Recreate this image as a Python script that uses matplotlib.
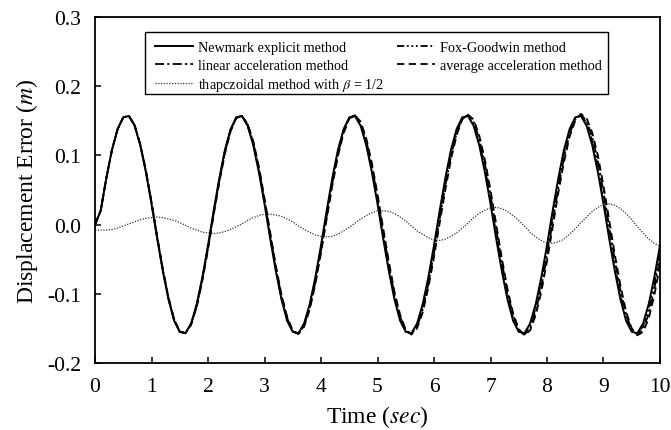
import numpy as np
import matplotlib
matplotlib.use("Agg")
import matplotlib.pyplot as plt
from matplotlib.patches import Rectangle
from matplotlib.ticker import FormatStrFormatter

plt.rcParams['font.family'] = ['Liberation Serif', 'DejaVu Serif']
plt.rcParams['mathtext.fontset'] = 'stix'
plt.rcParams['axes.unicode_minus'] = False

# time samples (sec)
time = np.linspace(0, 10, 101)

# displacement error (m), every 0.1 s
newmark_explicit = [
    0.000, 0.020, 0.067, 0.108, 0.138, 0.155, 0.157, 0.143, 0.115, 0.076,
    0.030, -0.020, -0.067, -0.108, -0.139, -0.155, -0.157, -0.143, -0.115, -0.076,
    -0.030, 0.020, 0.067, 0.108, 0.138, 0.155, 0.157, 0.143, 0.115, 0.076,
    0.030, -0.020, -0.067, -0.108, -0.139, -0.155, -0.157, -0.143, -0.115, -0.076,
    -0.030, 0.020, 0.067, 0.108, 0.138, 0.155, 0.157, 0.143, 0.115, 0.076,
    0.030, -0.020, -0.067, -0.108, -0.139, -0.155, -0.157, -0.143, -0.115, -0.076,
    -0.030, 0.020, 0.067, 0.108, 0.138, 0.155, 0.157, 0.143, 0.115, 0.076,
    0.030, -0.020, -0.067, -0.108, -0.139, -0.155, -0.157, -0.143, -0.115, -0.076,
    -0.030, 0.020, 0.067, 0.108, 0.138, 0.155, 0.157, 0.143, 0.115, 0.076,
    0.030, -0.020, -0.067, -0.108, -0.139, -0.155, -0.157, -0.143, -0.115, -0.076,
    -0.030]

fox_goodwin = [
    0.000, 0.020, 0.067, 0.108, 0.138, 0.155, 0.157, 0.143, 0.116, 0.077,
    0.031, -0.019, -0.066, -0.107, -0.138, -0.155, -0.157, -0.144, -0.116, -0.078,
    -0.032, 0.018, 0.065, 0.107, 0.137, 0.155, 0.157, 0.144, 0.117, 0.079,
    0.033, -0.017, -0.064, -0.106, -0.137, -0.155, -0.157, -0.145, -0.118, -0.080,
    -0.034, 0.016, 0.064, 0.105, 0.136, 0.154, 0.157, 0.145, 0.119, 0.080,
    0.034, -0.015, -0.063, -0.104, -0.136, -0.154, -0.158, -0.145, -0.119, -0.081,
    -0.035, 0.014, 0.062, 0.104, 0.135, 0.154, 0.158, 0.146, 0.120, 0.082,
    0.036, -0.013, -0.061, -0.103, -0.135, -0.154, -0.158, -0.146, -0.121, -0.083,
    -0.037, 0.012, 0.060, 0.102, 0.135, 0.154, 0.158, 0.147, 0.121, 0.084,
    0.038, -0.011, -0.059, -0.102, -0.134, -0.153, -0.158, -0.147, -0.122, -0.085,
    -0.039]

linear_acceleration = [
    0.000, 0.020, 0.067, 0.108, 0.138, 0.155, 0.157, 0.144, 0.116, 0.078,
    0.032, -0.018, -0.065, -0.106, -0.137, -0.155, -0.157, -0.144, -0.118, -0.079,
    -0.034, 0.016, 0.063, 0.105, 0.136, 0.154, 0.157, 0.145, 0.119, 0.081,
    0.035, -0.014, -0.062, -0.103, -0.135, -0.154, -0.158, -0.146, -0.120, -0.083,
    -0.037, 0.012, 0.060, 0.102, 0.134, 0.154, 0.158, 0.147, 0.122, 0.085,
    0.039, -0.010, -0.058, -0.101, -0.133, -0.153, -0.158, -0.148, -0.123, -0.086,
    -0.041, 0.008, 0.056, 0.099, 0.132, 0.153, 0.158, 0.149, 0.124, 0.088,
    0.043, -0.006, -0.054, -0.098, -0.131, -0.152, -0.159, -0.150, -0.126, -0.090,
    -0.045, 0.004, 0.053, 0.096, 0.131, 0.152, 0.159, 0.150, 0.127, 0.092,
    0.047, -0.002, -0.051, -0.095, -0.130, -0.152, -0.159, -0.151, -0.129, -0.093,
    -0.049]

average_acceleration = [
    0.000, 0.020, 0.067, 0.108, 0.138, 0.155, 0.157, 0.144, 0.116, 0.079,
    0.033, -0.017, -0.064, -0.105, -0.137, -0.154, -0.157, -0.145, -0.119, -0.081,
    -0.036, 0.014, 0.061, 0.103, 0.135, 0.154, 0.157, 0.146, 0.121, 0.084,
    0.038, -0.011, -0.059, -0.101, -0.133, -0.153, -0.158, -0.148, -0.123, -0.086,
    -0.041, 0.008, 0.056, 0.099, 0.132, 0.153, 0.158, 0.149, 0.125, 0.089,
    0.044, -0.005, -0.053, -0.097, -0.130, -0.152, -0.159, -0.150, -0.127, -0.091,
    -0.047, 0.002, 0.050, 0.094, 0.129, 0.152, 0.159, 0.152, 0.129, 0.094,
    0.050, 0.001, -0.048, -0.093, -0.128, -0.151, -0.160, -0.153, -0.131, -0.097,
    -0.053, -0.004, 0.046, 0.090, 0.127, 0.150, 0.160, 0.154, 0.133, 0.100,
    0.056, 0.007, -0.043, -0.088, -0.126, -0.150, -0.160, -0.155, -0.136, -0.102,
    -0.059]

trapezoidal = [
    -0.008, -0.008, -0.008, -0.007, -0.005, -0.002, 0.001, 0.004, 0.007, 0.009,
    0.010, 0.011, 0.010, 0.008, 0.006, 0.003, -0.001, -0.005, -0.008, -0.011,
    -0.012, -0.013, -0.012, -0.010, -0.007, -0.003, 0.001, 0.006, 0.010, 0.013,
    0.015, 0.015, 0.014, 0.012, 0.008, 0.004, -0.002, -0.007, -0.011, -0.015,
    -0.017, -0.018, -0.017, -0.014, -0.009, -0.004, 0.002, 0.008, 0.013, 0.017,
    0.020, 0.020, 0.019, 0.016, 0.011, 0.005, -0.002, -0.009, -0.014, -0.019,
    -0.022, -0.023, -0.021, -0.017, -0.012, -0.005, 0.002, 0.010, 0.016, 0.021,
    0.024, 0.025, 0.023, 0.019, 0.013, 0.006, -0.002, -0.011, -0.018, -0.023,
    -0.027, -0.027, -0.025, -0.021, -0.014, -0.006, 0.003, 0.011, 0.019, 0.025,
    0.029, 0.030, 0.028, 0.023, 0.016, 0.007, -0.003, -0.012, -0.021, -0.027,
    -0.031]

x_ticks = [0, 1, 2, 3, 4, 5, 6, 7, 8, 9, 10]
y_ticks = [-0.2, -0.1, 0.0, 0.1, 0.2, 0.3]

fig = plt.figure(figsize=(6.71, 4.31), dpi=100)
ax = fig.add_axes([0.1416, 0.1555, 0.842, 0.8027])

l_nm, = ax.plot(time, newmark_explicit, color="black", lw=1.4,
                label="Newmark explicit method")
l_la, = ax.plot(time, linear_acceleration, color="black", lw=1.3,
                dashes=(5, 1.8, 1.2, 1.8), label="linear acceleration method")
l_tr, = ax.plot(time, trapezoidal, color="#333333", lw=0.9, dashes=(1, 1.2),
                label=r"thapczoidal method with $\beta$ = 1/2")
l_fg, = ax.plot(time, fox_goodwin, color="black", lw=1.3,
                dashes=(4, 1.5, 1, 1.5, 1, 1.5, 1, 1.5), label="Fox-Goodwin method")
l_aa, = ax.plot(time, average_acceleration, color="black", lw=1.3,
                dashes=(4, 2.5), label="average acceleration method")

ax.set_xlim(0, 10)
ax.set_ylim(-0.2, 0.3)
ax.set_xticks(x_ticks)
ax.set_yticks(y_ticks)
ax.yaxis.set_major_formatter(FormatStrFormatter('%.1f'))
ax.tick_params(direction="in", length=4, width=1.1, labelsize=15.5, pad=10)
for s in ax.spines.values():
    s.set_linewidth(1.3)

ax.set_xlabel("Time ($sec$)", fontsize=17, labelpad=5)
ax.set_ylabel("Displacement Error ($m$)", fontsize=17, labelpad=5)

# legend: one box, two columns placed by hand (long 3rd label runs under column 2)
ax.add_patch(Rectangle((0.0885, 0.7775), 0.8195, 0.179, transform=ax.transAxes,
                       facecolor="white", edgecolor="black", lw=1.0, zorder=4.5))
opts = dict(loc="upper left", borderaxespad=0, borderpad=0, frameon=False,
            fontsize=10.3, handlelength=2.65, handletextpad=0.35, labelspacing=0.3)
leg1 = ax.legend(handles=[l_nm, l_la, l_tr], bbox_to_anchor=(0.106, 0.930), **opts)
ax.add_artist(leg1)
ax.legend(handles=[l_fg, l_aa], bbox_to_anchor=(0.5345, 0.930), **opts)

fig.savefig("out.png", dpi=100)
